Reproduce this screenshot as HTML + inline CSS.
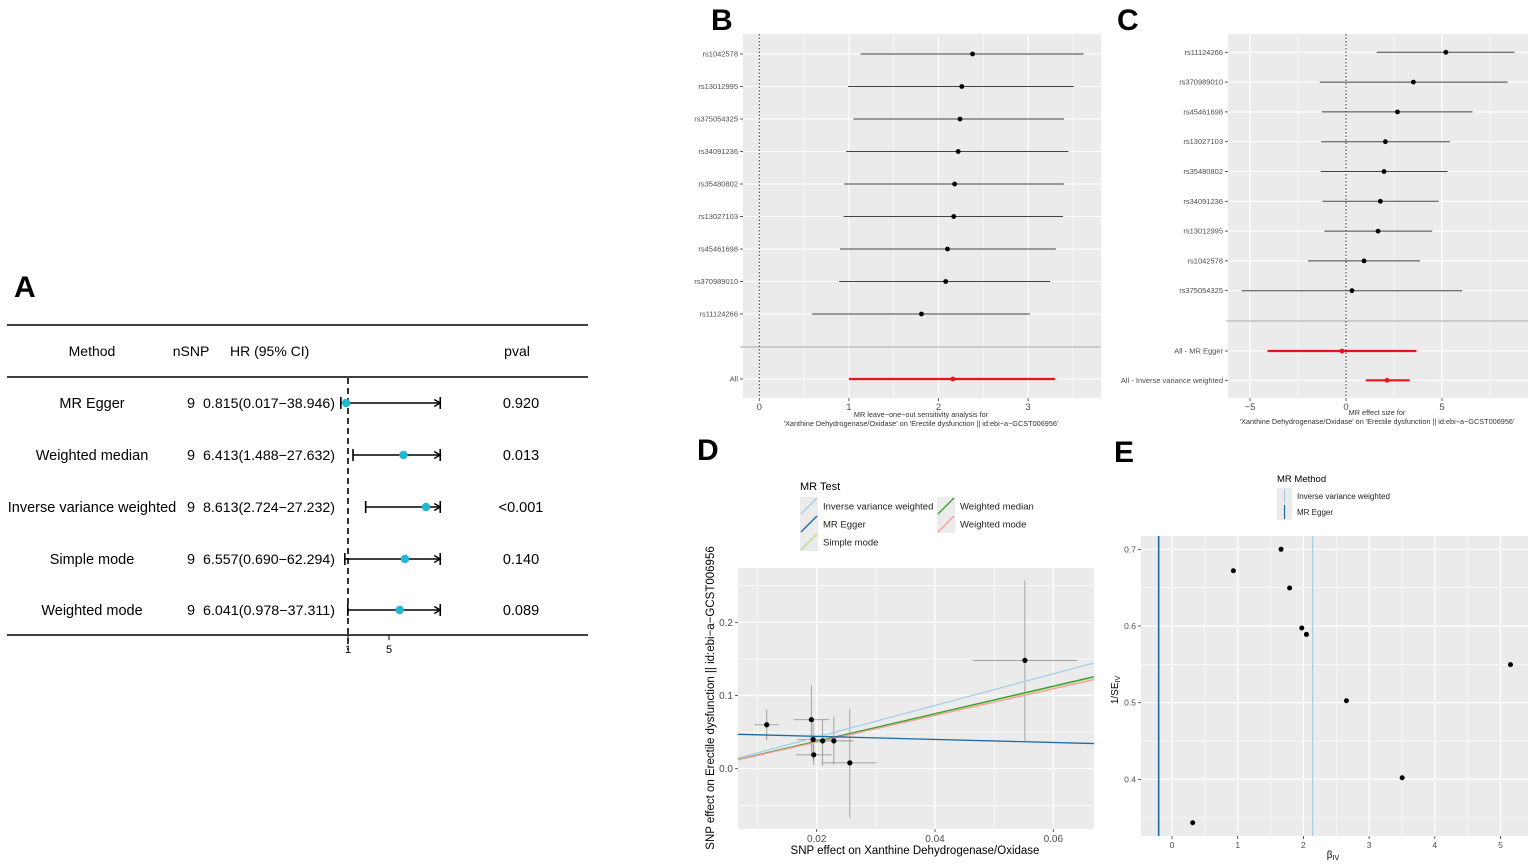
<!DOCTYPE html>
<html><head><meta charset="utf-8">
<style>
html,body{margin:0;padding:0;background:#fff;}
svg{display:block;font-family:"Liberation Sans",Arial,sans-serif;}
</style></head>
<body>
<svg id="fig" width="1535" height="868" viewBox="0 0 1535 868" xmlns="http://www.w3.org/2000/svg">
<defs>
<clipPath id="clipD"><rect x="738" y="568" width="356" height="261"/></clipPath>
<clipPath id="clipE"><rect x="1141" y="536" width="387" height="300"/></clipPath>
</defs>
</svg>
<script>
// ---------- Panel A data ----------
const A_methods=["MR Egger","Weighted median","Inverse variance weighted","Simple mode","Weighted mode"];
const A_nsnp=[9,9,9,9,9];
const A_hr=[0.815,6.413,8.613,6.557,6.041];
const A_lo=[0.017,1.488,2.724,0.690,0.978];
const A_hi=[38.946,27.632,27.232,62.294,37.311];
const A_pval=["0.920","0.013","<0.001","0.140","0.089"];
const A_ticks=[1,5];
// ---------- Panel B data ----------
const B_snps=["rs1042578","rs13012995","rs375054325","rs34091236","rs35480802","rs13027103","rs45461698","rs370989010","rs11124266"];
const B_est=[2.38,2.26,2.24,2.22,2.18,2.17,2.10,2.08,1.81];
const B_lo=[1.13,0.99,1.05,0.97,0.95,0.94,0.90,0.89,0.59];
const B_hi=[3.62,3.51,3.40,3.45,3.40,3.39,3.31,3.25,3.02];
const B_all=[2.16,1.00,3.30];
const B_ticks=[0,1,2,3];
// ---------- Panel C data ----------
const C_snps=["rs11124266","rs370989010","rs45461698","rs13027103","rs35480802","rs34091236","rs13012995","rs1042578","rs375054325"];
const C_est=[5.20,3.51,2.68,2.05,1.98,1.79,1.67,0.94,0.31];
const C_lo=[1.60,-1.37,-1.25,-1.29,-1.32,-1.23,-1.13,-1.98,-5.43];
const C_hi=[8.78,8.42,6.59,5.41,5.29,4.83,4.49,3.86,6.05];
const C_sumLabels=["All - MR Egger","All - Inverse variance weighted"];
const C_sumEst=[-0.21,2.14];
const C_sumLo=[-4.09,1.03];
const C_sumHi=[3.67,3.32];
const C_ticks=[-5,0,5];
// ---------- Panel D data ----------
const D_x=[0.01155,0.0191,0.0194,0.0195,0.0210,0.0229,0.0256,0.0552];
const D_y=[0.060,0.067,0.040,0.019,0.038,0.038,0.008,0.148];
const D_xlo=[0.0095,0.0161,0.0167,0.0165,0.0188,0.0208,0.0208,0.0464];
const D_xhi=[0.0136,0.0221,0.0225,0.0225,0.0232,0.0262,0.0301,0.0641];
const D_ylo=[0.039,0.021,0.011,0.005,0.004,0.005,-0.067,0.038];
const D_yhi=[0.081,0.114,0.069,0.033,0.068,0.071,0.082,0.257];
const D_methods=["Inverse variance weighted","MR Egger","Simple mode","Weighted median","Weighted mode"];
const D_slope=[2.16,-0.21,1.86,1.88,1.82];
const D_icpt=[0,0.0484,0,0,0];
const D_xticks=[0.02,0.04,0.06];
const D_yticks=[0.0,0.1,0.2];
// ---------- Panel E data ----------
const E_beta=[0.315,0.934,1.66,1.79,1.975,2.046,2.655,3.503,5.152];
const E_inv=[0.3435,0.672,0.700,0.6496,0.5974,0.589,0.5026,0.4022,0.5496];
const E_methods=["Inverse variance weighted","MR Egger"];
const E_lines=[2.14,-0.203];
const E_xticks=[0,1,2,3,4,5];
const E_yticks=[0.4,0.5,0.6,0.7];

const NS="http://www.w3.org/2000/svg";
const svg=document.getElementById('fig');
function el(tag,attrs,parent,text){const e=document.createElementNS(NS,tag);for(const k in attrs)e.setAttribute(k,attrs[k]);if(text!==undefined)e.textContent=text;(parent||svg).appendChild(e);return e;}
function grp(name){const g=el('g',{});return g;}

// ---------- Panel labels ----------
const plabels=[["A",14,297],["B",711,30],["C",1117,30],["D",697,460],["E",1114,462]];
for(const p of plabels){
 const t=el('text',{x:p[1],y:p[2],'font-size':30,'font-weight':'bold',fill:'#000'},svg,p[0]);
 
 
}

// ================= Panel A =================
(function(){
 const g=grp('panel-a-forest-table');
 const xA=v=>348+(v-1)*10.25;
 const rowY=[403,455,507,559,610];
 for(const y of [325,377,635]){
  const l=el('line',{x1:7,x2:588,y1:y,y2:y,stroke:'#000','stroke-width':1.6},g);
  
  
 }
 const hdr=[["Method",92,'middle'],["nSNP",191,'middle'],["HR (95% CI)",230,'start'],["pval",517,'middle']];
 for(const h of hdr){
  const t=el('text',{x:h[1],y:356,'font-size':14,'text-anchor':h[2]},g,h[0]);
  
  
 }
 const dl=el('line',{x1:xA(1),x2:xA(1),y1:378,y2:650,stroke:'#000','stroke-width':1.6,'stroke-dasharray':'6,4'},g);
 
 
 for(let i=0;i<A_methods.length;i++){
  const y=rowY[i];
  const m=el('text',{x:92,y:y+5,'font-size':14.5,'text-anchor':'middle'},g,A_methods[i]);
  
  
  const n=el('text',{x:191,y:y+5,'font-size':14.5,'text-anchor':'middle'},g,String(A_nsnp[i]));
  
  
  const hr=el('text',{x:203,y:y+5,'font-size':14,textLength:132,lengthAdjust:'spacingAndGlyphs'},g,A_hr[i].toFixed(3)+"("+A_lo[i].toFixed(3)+"\u2212"+A_hi[i].toFixed(3)+")");
  
  
  const pv=el('text',{x:521,y:y+5,'font-size':14.5,'text-anchor':'middle'},g,A_pval[i]);
  
  
  const lo=Math.max(A_lo[i],0.3), hi=Math.min(A_hi[i],10);
  const x1=xA(lo),x2=xA(hi);
  const ci=el('line',{x1:x1,x2:x2,y1:y,y2:y,stroke:'#000','stroke-width':1.6},g);
  
  
  const c1=el('line',{x1:x1,x2:x1,y1:y-6,y2:y+6,stroke:'#000','stroke-width':1.6},g);
  
  
  const c2=el('line',{x1:x2,x2:x2,y1:y-6,y2:y+6,stroke:'#000','stroke-width':1.6},g);
  
  
  const ar=el('path',{d:`M${x2-6},${y-3.5} L${x2},${y} L${x2-6},${y+3.5}`,fill:'none',stroke:'#000','stroke-width':1.4},g);
  
  
  const pt=el('circle',{cx:xA(A_hr[i]),cy:y,r:4.2,fill:'#1FB8D3'},g);
  
  
 }
 for(const t of A_ticks){
  const tk=el('line',{x1:xA(t),x2:xA(t),y1:635,y2:640,stroke:'#000','stroke-width':1},g);
  
  
  const tl=el('text',{x:xA(t),y:653,'font-size':11,'text-anchor':'middle'},g,String(t));
  
  
 }
})();

// ============ generic forest (B, C) ============
function forest(o){
 const g=grp(o.name);
 const bg=el('rect',{x:o.x0,y:o.y0,width:o.x1-o.x0,height:o.y1-o.y0,fill:'#EBEBEB'},g);
 
 
 for(const m of o.minor){
  const l=el('line',{x1:o.sx(m),x2:o.sx(m),y1:o.y0,y2:o.y1,stroke:'#fff','stroke-width':0.6},g);
  
  
 }
 for(const t of o.ticks){
  const l=el('line',{x1:o.sx(t),x2:o.sx(t),y1:o.y0,y2:o.y1,stroke:'#fff','stroke-width':1.1},g);
  
  
  const tk=el('line',{x1:o.sx(t),x2:o.sx(t),y1:o.y1,y2:o.y1+3,stroke:'#333','stroke-width':0.8},g);
  
  
  const tl=el('text',{x:o.sx(t),y:o.y1+12,'font-size':9.5,'text-anchor':'middle',fill:'#4D4D4D'},g,(t<0?'\u2212'+(-t):String(t)));
  
  
 }
 const allRows=o.rows.concat(o.sum);
 for(const r of allRows){
  const l=el('line',{x1:o.x0,x2:o.x1,y1:r.y,y2:r.y,stroke:'#fff','stroke-width':1.1},g);
  
  
 }
 const sep=el('line',{x1:o.sepX0,x2:o.x1,y1:o.sepY,y2:o.sepY,stroke:'#AAAAAA','stroke-width':1},g);
 
 
 const z=el('line',{x1:o.sx(0),x2:o.sx(0),y1:o.y0,y2:o.y1,stroke:'#333','stroke-width':1,'stroke-dasharray':'1.5,2'},g);
 
 
 for(const r of allRows){
  const lbl=el('text',{x:o.x0-5,y:r.y+2.5,'font-size':o.lblSize,'text-anchor':'end',fill:'#4D4D4D'},g,r.label);
  
  
  const tk=el('line',{x1:o.x0-3,x2:o.x0,y1:r.y,y2:r.y,stroke:'#333','stroke-width':0.8},g);
  
  
  const col=r.sum?'#E8141B':'#444';
  const ci=el('line',{x1:o.sx(r.lo),x2:o.sx(r.hi),y1:r.y,y2:r.y,stroke:col,'stroke-width':r.sum?2.2:1},g);
  
  
  const pt=el('circle',{cx:o.sx(r.est),cy:r.y,r:2.4,fill:r.sum?'#E8141B':'#000'},g);
  
  
 }
 o.title.forEach((s,i)=>{
  const t=el('text',{x:o.titleX,y:o.titleY+i*9,'font-size':7.3,'text-anchor':'middle',fill:'#333'},g,s);
  
  
 });
}
// Panel B
(function(){
 const sx=v=>759.3+v*89.6;
 const rows=B_snps.map((s,i)=>({label:s,est:B_est[i],lo:B_lo[i],hi:B_hi[i],y:54+i*32.5}));
 forest({name:'panel-b-leave-one-out',x0:743,x1:1101,y0:34,y1:398,sx:sx,ticks:B_ticks,minor:[0.5,1.5,2.5,3.5],rows:rows,
  sum:[{label:'All',est:B_all[0],lo:B_all[1],hi:B_all[2],y:379,sum:true}],sepY:347,sepX0:740,lblSize:7.5,
  title:["MR leave\u2212one\u2212out sensitivity analysis for","'Xanthine Dehydrogenase/Oxidase' on 'Erectile dysfunction || id:ebi\u2212a\u2212GCST006956'"],titleX:921,titleY:417});
})();
// Panel C
(function(){
 const sx=v=>1346+v*19.2;
 const rows=C_snps.map((s,i)=>({label:s,est:C_est[i],lo:C_lo[i],hi:C_hi[i],y:52.3+i*29.8}));
 const sum=C_sumLabels.map((s,i)=>({label:s,est:C_sumEst[i],lo:C_sumLo[i],hi:C_sumHi[i],y:351+i*29.3,sum:true}));
 forest({name:'panel-c-single-snp',x0:1228,x1:1528,y0:34,y1:398,sx:sx,ticks:C_ticks,minor:[-2.5,2.5,7.5],rows:rows,
  sum:sum,sepY:321,sepX0:1226,lblSize:7.5,
  title:["MR effect size for","'Xanthine Dehydrogenase/Oxidase' on 'Erectile dysfunction || id:ebi\u2212a\u2212GCST006956'"],titleX:1377,titleY:415});
})();

// ================= Panel D =================
(function(){
 const g=grp('panel-d-scatter');
 const x0=738,x1=1094,y0=568,y1=829;
 const sx=v=>816.7+(v-0.02)*5915;
 const sy=v=>768.7-v*732;
 const bg=el('rect',{x:x0,y:y0,width:x1-x0,height:y1-y0,fill:'#EBEBEB'},g);
 
 
 for(const m of [0.01,0.03,0.05]){
  const l=el('line',{x1:sx(m),x2:sx(m),y1:y0,y2:y1,stroke:'#fff','stroke-width':0.6},g);
  
  
 }
 for(const m of [-0.05,0.05,0.15,0.25]){
  const l=el('line',{x1:x0,x2:x1,y1:sy(m),y2:sy(m),stroke:'#fff','stroke-width':0.6},g);
  
  
 }
 for(const t of D_xticks){
  const l=el('line',{x1:sx(t),x2:sx(t),y1:y0,y2:y1,stroke:'#fff','stroke-width':1.2},g);
  
  
  const tk=el('line',{x1:sx(t),x2:sx(t),y1:y1,y2:y1+3,stroke:'#333','stroke-width':0.8},g);
  
  
  const tl=el('text',{x:sx(t),y:y1+13,'font-size':10,'text-anchor':'middle',fill:'#4D4D4D'},g,t.toFixed(2));
  
  
 }
 for(const t of D_yticks){
  const l=el('line',{x1:x0,x2:x1,y1:sy(t),y2:sy(t),stroke:'#fff','stroke-width':1.2},g);
  
  
  const tk=el('line',{x1:x0-3,x2:x0,y1:sy(t),y2:sy(t),stroke:'#333','stroke-width':0.8},g);
  
  
  const tl=el('text',{x:x0-5,y:sy(t)+3.5,'font-size':10,'text-anchor':'end',fill:'#4D4D4D'},g,t.toFixed(1));
  
  
 }
 const cg=el('g',{'clip-path':'url(#clipD)'},g);
 
 
 for(let i=0;i<D_x.length;i++){
  const h=el('line',{x1:sx(D_xlo[i]),x2:sx(D_xhi[i]),y1:sy(D_y[i]),y2:sy(D_y[i]),stroke:'#9A9A9A','stroke-width':0.9},cg);
  
  
  const v=el('line',{x1:sx(D_x[i]),x2:sx(D_x[i]),y1:sy(D_ylo[i]),y2:sy(D_yhi[i]),stroke:'#9A9A9A','stroke-width':0.9},cg);
  
  
 }
 const colors=['#A6CEE3','#1F6AA0','#B2DF8A','#33A02C','#FB9A99'];
 const order=[0,2,3,4,1];
 for(const k of order){
  const xa=0.0060,xb=0.0680;
  const l=el('line',{x1:sx(xa),x2:sx(xb),y1:sy(D_icpt[k]+D_slope[k]*xa),y2:sy(D_icpt[k]+D_slope[k]*xb),stroke:colors[k],'stroke-width':1.3},cg);
  
  
 }
 for(let i=0;i<D_x.length;i++){
  const p=el('circle',{cx:sx(D_x[i]),cy:sy(D_y[i]),r:2.6,fill:'#000'},cg);
  
  
 }
 const yt=el('text',{x:0,y:0,'font-size':11.5,'text-anchor':'middle',fill:'#000',transform:'translate(714,698) rotate(-90)'},g,'SNP effect on Erectile dysfunction || id:ebi\u2212a\u2212GCST006956');
 
 
 const xt=el('text',{x:915,y:854,'font-size':11.5,'text-anchor':'middle',fill:'#000'},g,'SNP effect on Xanthine Dehydrogenase/Oxidase');
 
 
 const lg=el('g',{},g);
 
 
 const lt=el('text',{x:800,y:490,'font-size':11,fill:'#000'},lg,'MR Test');
 
 
 const pos=[[800,497],[800,515],[800,533],[937,497],[937,515]];
 for(let k=0;k<5;k++){
  const [kx,ky]=pos[k];
  const e=el('g',{},lg);
  
  
  el('rect',{x:kx,y:ky,width:18,height:18,fill:'#EBEBEB'},e);
  el('line',{x1:kx+1,y1:ky+17,x2:kx+17,y2:ky+1,stroke:colors[k],'stroke-width':1.3},e);
  el('text',{x:kx+23,y:ky+12.5,'font-size':9.5,fill:'#222'},e,D_methods[k]);
 }
})();

// ================= Panel E =================
(function(){
 const g=grp('panel-e-funnel');
 const x0=1141,x1=1528,y0=536,y1=836;
 const sx=v=>1172+v*65.7;
 const sy=v=>549.3+(0.7-v)*767;
 const bg=el('rect',{x:x0,y:y0,width:x1-x0,height:y1-y0,fill:'#EBEBEB'},g);
 
 
 for(const m of [0.5,1.5,2.5,3.5,4.5]){
  const l=el('line',{x1:sx(m),x2:sx(m),y1:y0,y2:y1,stroke:'#fff','stroke-width':0.6},g);
  
  
 }
 for(const m of [0.35,0.45,0.55,0.65]){
  const l=el('line',{x1:x0,x2:x1,y1:sy(m),y2:sy(m),stroke:'#fff','stroke-width':0.6},g);
  
  
 }
 for(const t of E_xticks){
  const l=el('line',{x1:sx(t),x2:sx(t),y1:y0,y2:y1,stroke:'#fff','stroke-width':1.2},g);
  
  
  const tk=el('line',{x1:sx(t),x2:sx(t),y1:y1,y2:y1+3,stroke:'#333','stroke-width':0.8},g);
  
  
  const tl=el('text',{x:sx(t),y:y1+12,'font-size':8.5,'text-anchor':'middle',fill:'#4D4D4D'},g,String(t));
  
  
 }
 for(const t of E_yticks){
  const l=el('line',{x1:x0,x2:x1,y1:sy(t),y2:sy(t),stroke:'#fff','stroke-width':1.2},g);
  
  
  const tk=el('line',{x1:x0-3,x2:x0,y1:sy(t),y2:sy(t),stroke:'#333','stroke-width':0.8},g);
  
  
  const tl=el('text',{x:x0-5,y:sy(t)+3,'font-size':8.5,'text-anchor':'end',fill:'#4D4D4D'},g,t.toFixed(1));
  
  
 }
 const lc=['#A6CEE3','#1F6AA0'];
 const cg=el('g',{'clip-path':'url(#clipE)'},g);
 
 
 for(let k=0;k<E_lines.length;k++){
  const l=el('line',{x1:sx(E_lines[k]),x2:sx(E_lines[k]),y1:y0,y2:y1,stroke:lc[k],'stroke-width':k?1.6:1.2},cg);
  
  
 }
 for(let i=0;i<E_beta.length;i++){
  const p=el('circle',{cx:sx(E_beta[i]),cy:sy(E_inv[i]),r:2.5,fill:'#000'},cg);
  
  
 }
 const yt=el('text',{x:0,y:0,'font-size':10,'text-anchor':'middle',fill:'#000',transform:'translate(1118,690) rotate(-90)'},g);
 
 
 el('tspan',{},yt,'1/SE');
 el('tspan',{'font-size':7,dy:2},yt,'IV');
 const xt=el('text',{x:1333,y:858,'font-size':10,'text-anchor':'middle',fill:'#000'},g);
 
 
 el('tspan',{},xt,'\u03B2');
 el('tspan',{'font-size':7,dy:2},xt,'IV');
 const lg=el('g',{},g);
 
 
 const lt=el('text',{x:1277,y:482,'font-size':9.5,fill:'#000'},lg,'MR Method');
 
 
 for(let k=0;k<2;k++){
  const ky=488+k*16;
  const e=el('g',{},lg);
  
  
  el('rect',{x:1277,y:ky,width:15,height:16,fill:'#EBEBEB'},e);
  el('line',{x1:1284.5,x2:1284.5,y1:ky+1,y2:ky+15,stroke:lc[k],'stroke-width':1.2},e);
  el('text',{x:1297,y:ky+11,'font-size':8,fill:'#222'},e,E_methods[k]);
 }
})();
</script>
</body></html>
